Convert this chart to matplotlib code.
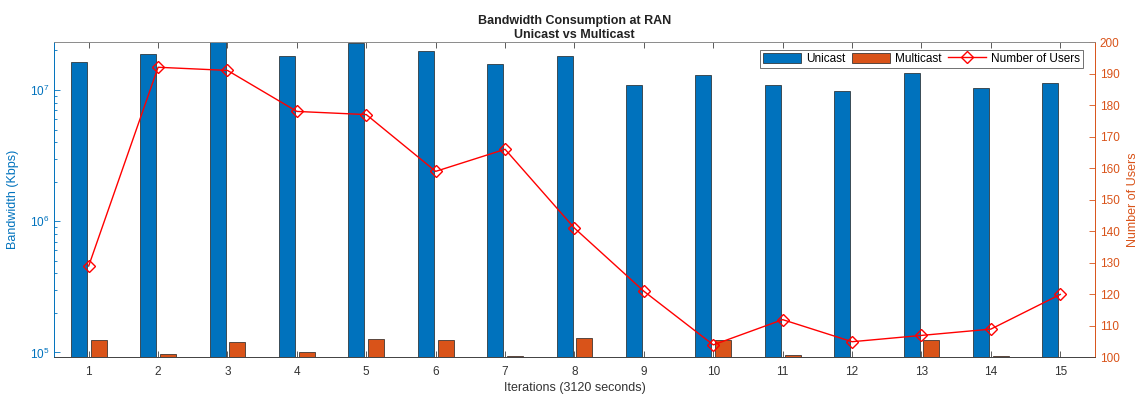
import matplotlib.pyplot as plt
import numpy as np
from matplotlib.lines import Line2D
from matplotlib.patches import Patch
from matplotlib.ticker import LogLocator, FixedLocator

plt.rcParams['font.family'] = ['Liberation Sans', 'DejaVu Sans']

# bandwidth per iteration (Kbps) and active users
iterations = list(range(1, 16))
unicast = [1.63e7, 1.87e7, 2.45e7, 1.81e7, 2.27e7, 1.99e7, 1.58e7, 1.83e7,
           1.10e7, 1.31e7, 1.09e7, 9.8e6, 1.35e7, 1.03e7, 1.13e7]
multicast = [1.25e5, 9.66e4, 1.20e5, 1.005e5, 1.26e5, 1.24e5, 9.37e4, 1.28e5,
             8.5e4, 1.25e5, 9.6e4, 9.3e4, 1.24e5, 9.45e4, 9.3e4]
users = [129, 192, 191, 178, 177, 159, 166, 141, 121, 104, 112, 105, 107, 109, 120]

BLUE = '#0072BD'
ORANGE = '#D95319'
AXGRAY = '#404040'

fig = plt.figure(figsize=(11.46, 4.01), dpi=100)
ax = fig.add_axes([0.0471, 0.1085, 0.9084, 0.7867])

x = np.array(iterations)
ax.bar(x - 0.143, unicast, 0.229, color=BLUE, edgecolor='#202020', linewidth=0.5)
ax.bar(x + 0.143, multicast, 0.229, color=ORANGE, edgecolor='#202020', linewidth=0.5)
ax.set_yscale('log')
ax.set_ylim(9.16e4, 2.32e7)
ax.set_xlim(0.5, 15.5)
ax.set_xticks(x)
ax.yaxis.set_major_locator(LogLocator(base=10))
ax.yaxis.set_minor_locator(LogLocator(base=10, subs=np.arange(2, 10)))
ax.tick_params(axis='x', direction='in', top=True, length=4, width=0.6,
               labelsize=8.5, colors=AXGRAY, labelcolor='#333333', pad=6)
ax.tick_params(axis='y', which='both', direction='in', right=False,
               colors=BLUE, labelsize=8.5, width=0.6)
ax.tick_params(axis='y', which='major', length=4)
ax.tick_params(axis='y', which='minor', length=2)
ax.set_ylabel('Bandwidth (Kbps)', color=BLUE, fontsize=9, labelpad=8)
ax.set_xlabel('Iterations (3120 seconds)', color='#333333', fontsize=9, labelpad=3)
ax.set_title('Bandwidth Consumption at RAN\nUnicast vs Multicast',
             fontweight='bold', fontsize=9, color='#222222', pad=3, linespacing=1.25)

ax2 = ax.twinx()
ax2.plot(x, users, color='#FF0000', linewidth=1.0, marker='D', markersize=6,
         markerfacecolor='none', markeredgecolor='#FF0000', markeredgewidth=1.0)
ax2.set_ylim(100, 200)
ax2.yaxis.set_major_locator(FixedLocator(np.arange(100, 201, 10)))
ax2.tick_params(axis='y', direction='in', length=4, width=0.6, colors=ORANGE,
                labelsize=8.5)
ax2.set_ylabel('Number of Users', color=ORANGE, fontsize=9, labelpad=5)

for a in (ax, ax2):
    a.spines['top'].set_color('#8c8c8c')
    a.spines['bottom'].set_color(AXGRAY)
    a.spines['left'].set_color(BLUE)
    a.spines['right'].set_color(ORANGE)
    for s in a.spines.values():
        s.set_linewidth(0.6)

handles = [Patch(facecolor=BLUE, edgecolor='#202020', linewidth=0.5),
           Patch(facecolor=ORANGE, edgecolor='#202020', linewidth=0.5),
           Line2D([], [], color='#FF0000', linewidth=1.0, marker='D', markersize=6,
                  markerfacecolor='none', markeredgewidth=1.0)]
leg = ax2.legend(handles, ['Unicast', 'Multicast', 'Number of Users'], ncol=3,
                 loc='upper right', bbox_to_anchor=(1082.7 / 1146, 1 - 50 / 401),
                 bbox_transform=fig.transFigure, fontsize=8.5, frameon=True,
                 fancybox=False, edgecolor='#303030', handlelength=3.2,
                 handleheight=0.9, columnspacing=0.6, handletextpad=0.4,
                 borderpad=0.25, borderaxespad=0)
leg.get_frame().set_linewidth(0.6)

fig.savefig('out.png', dpi=100)
